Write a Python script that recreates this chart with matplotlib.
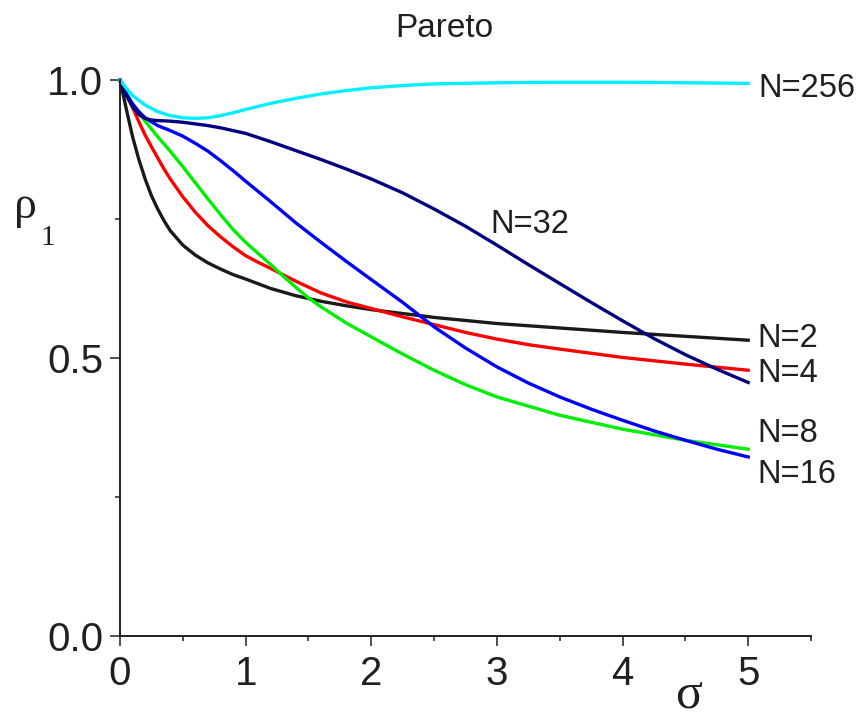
import matplotlib
matplotlib.use("Agg")
import matplotlib.pyplot as plt
from matplotlib.ticker import MultipleLocator

# values
sigma_n2 = [0, 0.025, 0.05, 0.1, 0.15, 0.2, 0.25, 0.3, 0.35, 0.4, 0.5, 0.6, 0.7, 0.8, 0.9, 1.0, 1.2, 1.4, 1.6, 1.8, 2.0, 2.5, 3.0, 3.5, 4.0, 4.5, 5.0]
rho_n2 = [1.0, 0.974, 0.948, 0.898, 0.857, 0.822, 0.792, 0.768, 0.747, 0.729, 0.703, 0.685, 0.671, 0.66, 0.65, 0.642, 0.625, 0.612, 0.602, 0.594, 0.587, 0.573, 0.562, 0.554, 0.546, 0.539, 0.532]

sigma_n4 = [0, 0.05, 0.1, 0.15, 0.2, 0.25, 0.3, 0.35, 0.4, 0.5, 0.6, 0.7, 0.8, 0.9, 1.0, 1.1, 1.2, 1.4, 1.6, 1.8, 2.0, 2.25, 2.5, 2.75, 3.0, 3.25, 3.5, 4.0, 4.5, 5.0]
rho_n4 = [1.0, 0.975, 0.951, 0.925, 0.901, 0.88, 0.86, 0.84, 0.822, 0.79, 0.762, 0.738, 0.718, 0.70, 0.684, 0.672, 0.661, 0.638, 0.617, 0.601, 0.589, 0.574, 0.56, 0.546, 0.534, 0.524, 0.516, 0.501, 0.489, 0.478]

sigma_n8 = [0, 0.05, 0.1, 0.15, 0.2, 0.25, 0.3, 0.4, 0.5, 0.6, 0.7, 0.8, 0.9, 1.0, 1.1, 1.2, 1.3, 1.4, 1.5, 1.6, 1.8, 2.0, 2.25, 2.5, 2.75, 3.0, 3.5, 4.0, 4.5, 5.0]
rho_n8 = [1.0, 0.976, 0.957, 0.941, 0.926, 0.912, 0.898, 0.872, 0.844, 0.815, 0.786, 0.758, 0.731, 0.708, 0.688, 0.668, 0.647, 0.627, 0.608, 0.592, 0.563, 0.538, 0.507, 0.478, 0.452, 0.43, 0.397, 0.372, 0.352, 0.336]

sigma_n16 = [0, 0.05, 0.1, 0.15, 0.2, 0.3, 0.4, 0.5, 0.6, 0.7, 0.8, 0.9, 1.0, 1.2, 1.4, 1.6, 1.8, 2.0, 2.25, 2.5, 2.75, 3.0, 3.25, 3.5, 3.75, 4.0, 4.25, 4.5, 4.75, 5.0]
rho_n16 = [1.0, 0.975, 0.957, 0.943, 0.932, 0.918, 0.909, 0.899, 0.886, 0.872, 0.855, 0.837, 0.818, 0.781, 0.743, 0.708, 0.674, 0.641, 0.600, 0.556, 0.518, 0.484, 0.455, 0.43, 0.408, 0.388, 0.369, 0.352, 0.336, 0.322]

sigma_n32 = [0, 0.05, 0.1, 0.15, 0.2, 0.25, 0.3, 0.4, 0.5, 0.6, 0.7, 0.8, 0.9, 1.0, 1.2, 1.4, 1.6, 1.8, 2.0, 2.25, 2.5, 2.75, 3.0, 3.25, 3.5, 3.75, 4.0, 4.25, 4.5, 4.75, 5.0]
rho_n32 = [1.0, 0.972, 0.952, 0.938, 0.931, 0.928, 0.927, 0.926, 0.924, 0.921, 0.918, 0.914, 0.909, 0.904, 0.889, 0.873, 0.857, 0.84, 0.822, 0.797, 0.768, 0.737, 0.703, 0.668, 0.634, 0.6, 0.567, 0.535, 0.506, 0.48, 0.456]

sigma_n256 = [0, 0.05, 0.1, 0.2, 0.3, 0.4, 0.5, 0.6, 0.7, 0.8, 0.9, 1.0, 1.2, 1.4, 1.6, 1.8, 2.0, 2.25, 2.5, 3.0, 3.5, 4.0, 4.5, 5.0]
rho_n256 = [1.0, 0.985, 0.972, 0.955, 0.943, 0.936, 0.932, 0.931, 0.932, 0.936, 0.941, 0.947, 0.958, 0.967, 0.975, 0.981, 0.986, 0.99, 0.993, 0.995, 0.996, 0.996, 0.995, 0.994]

series = [
    ("N=2", sigma_n2, rho_n2, "#1a1a1a", 5.07, 0.52),
    ("N=4", sigma_n4, rho_n4, "#ff0000", 5.07, 0.457),
    ("N=8", sigma_n8, rho_n8, "#00ee00", 5.07, 0.349),
    ("N=16", sigma_n16, rho_n16, "#0000ff", 5.07, 0.275),
    ("N=32", sigma_n32, rho_n32, "#000080", 2.95, 0.725),
    ("N=256", sigma_n256, rho_n256, "#00f0ff", 5.08, 0.969),
]

txt = "#231f20"
plt.rcParams['font.family'] = ['Liberation Sans', 'DejaVu Sans']

fig = plt.figure(figsize=(8.68, 7.19), dpi=100)
ax = fig.add_axes([120 / 868, 83 / 719, 691 / 868, 556 / 719])

for label, xs, ys, color, lx, ly in series:
    ax.plot(xs, ys, color=color, lw=2.4, clip_on=False, solid_joinstyle='round')
    ax.text(lx, ly, label, fontsize=23.5, color=txt, va='baseline', ha='left')

ax.set_xlim(0, 5.5)
ax.set_ylim(0, 1.0)
ax.xaxis.set_major_locator(MultipleLocator(1))
ax.xaxis.set_minor_locator(MultipleLocator(0.5))
ax.yaxis.set_major_locator(MultipleLocator(0.5))
ax.yaxis.set_minor_locator(MultipleLocator(0.25))
ax.yaxis.set_major_formatter(plt.FormatStrFormatter('%.1f'))

for side in ['top', 'right']:
    ax.spines[side].set_visible(False)
for side in ['left', 'bottom']:
    ax.spines[side].set_linewidth(1.4)
    ax.spines[side].set_color(txt)

ax.tick_params(which='major', direction='out', length=7, width=1.1, labelsize=29,
               colors=txt)
ax.tick_params(which='minor', direction='out', length=3.6, width=1.1, colors=txt)
ax.tick_params(axis='x', pad=7)
ax.tick_params(axis='y', pad=5)

fig.text(444.5 / 868, (719 - 37) / 719, "Pareto", fontsize=24, color=txt,
         ha='center', va='baseline')
fig.text(25 / 868, (719 - 218) / 719, "ρ", fontsize=33, color=txt,
         family=['Liberation Serif', 'DejaVu Serif'], ha='center', va='baseline')
fig.text(40 / 868, (719 - 245) / 719, "1", fontsize=21, color=txt,
         family=['Liberation Serif', 'DejaVu Serif'], ha='left', va='baseline')
# sigma sits right at the bottom edge, keep its box inside the figure
fig.text(689 / 868, 1 / 719, "σ", fontsize=36, color=txt,
         family=['Liberation Serif', 'DejaVu Serif'], ha='center', va='bottom')

fig.savefig("out.png", dpi=100)
